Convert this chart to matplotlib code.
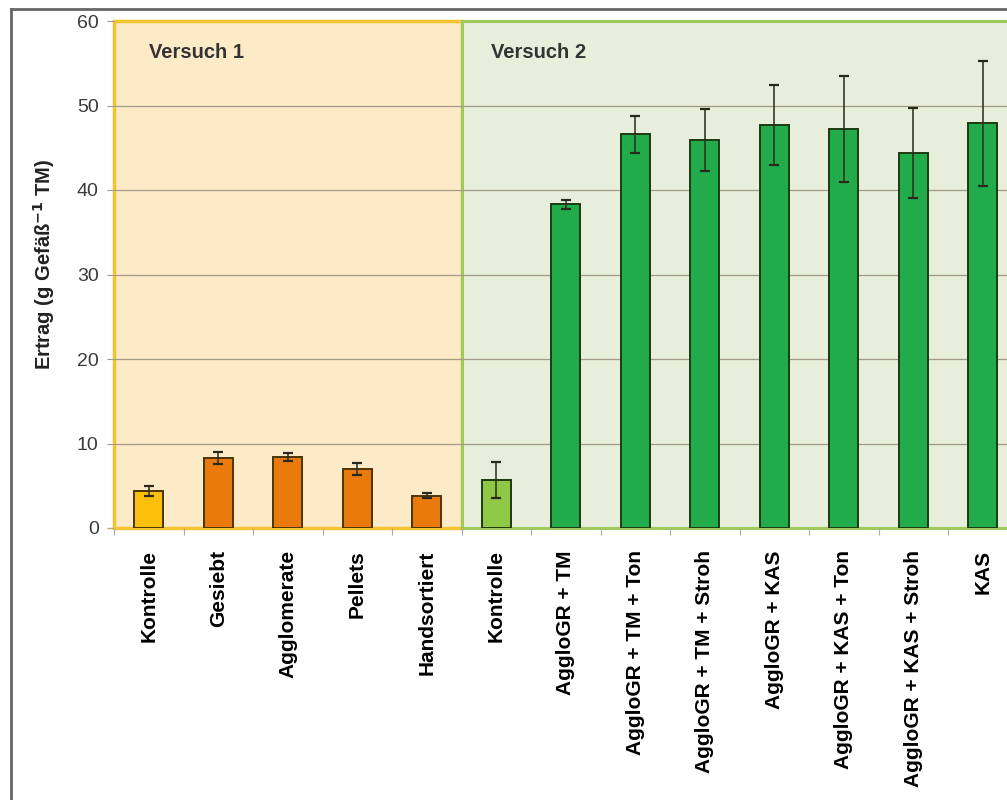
import numpy as np
import matplotlib
matplotlib.use('Agg')
import matplotlib.pyplot as plt
from matplotlib.patches import Rectangle

plt.rcParams['font.family'] = ['Liberation Sans', 'DejaVu Sans']

# Versuch 1 und Versuch 2: Ertrag je Gefäß (Mittelwert und Standardabweichung)
kategorien = ['Kontrolle', 'Gesiebt', 'Agglomerate', 'Pellets', 'Handsortiert',
              'Kontrolle', 'AggloGR + TM', 'AggloGR + TM + Ton', 'AggloGR + TM + Stroh',
              'AggloGR + KAS', 'AggloGR + KAS + Ton', 'AggloGR + KAS + Stroh', 'KAS']
ertrag = [4.4, 8.3, 8.4, 7.0, 3.8,
          5.7, 38.3, 46.6, 45.9, 47.7, 47.2, 44.4, 47.9]
fehler = [0.6, 0.7, 0.5, 0.7, 0.3,
          2.1, 0.5, 2.2, 3.7, 4.7, 6.3, 5.3, 7.4]
farben = ['#fbbf0c', '#e97a0b', '#e97a0b', '#e97a0b', '#e97a0b',
          '#8fc747', '#22ab4b', '#22ab4b', '#22ab4b', '#22ab4b', '#22ab4b', '#22ab4b', '#22ab4b']
kanten = ['#4a3505'] * 5 + ['#1d3a12'] * 8

fig = plt.figure(figsize=(10.07, 8), dpi=100)
ax = fig.add_axes([114 / 1007, 1 - 528 / 800, 903.5 / 1007, 507 / 800])

x = np.arange(len(kategorien))
ax.set_xlim(-0.5, 12.5)
ax.set_ylim(0, 60)

# Hintergrundflächen der beiden Versuche
ax.add_patch(Rectangle((-0.5, 0), 5, 60, facecolor='#fdebc8', edgecolor='#f4c430',
                       lw=2.5, zorder=0, clip_on=False))
ax.add_patch(Rectangle((4.5, 0), 8.6, 60, facecolor='#e7eedb', edgecolor='#9ccb5c',
                       lw=2.2, zorder=0, clip_on=False))

for yv in range(10, 60, 10):
    ax.axhline(yv, color='#a39b88', lw=0.9, zorder=1)

ax.bar(x, ertrag, width=0.42, color=farben, edgecolor=kanten, linewidth=1.4, zorder=3)
ax.errorbar(x, ertrag, yerr=fehler, fmt='none', ecolor='#2a2a1c', elinewidth=1.1,
            capsize=3.5, capthick=1.6, zorder=4)

ax.text(0.0, 56.3, 'Versuch 1', fontsize=14.5, fontweight='bold', color='#333333',
        va='center', ha='left', zorder=5)
ax.text(4.93, 56.3, 'Versuch 2', fontsize=14.5, fontweight='bold', color='#333333',
        va='center', ha='left', zorder=5)

for s in ax.spines.values():
    s.set_visible(False)

ax.set_yticks(range(0, 61, 10))
ax.tick_params(axis='y', length=5, width=0.8, color='#999999', pad=6,
               labelsize=14, labelcolor='#3a3a3a')
ax.set_xticks(x)
ax.set_xticklabels(kategorien, rotation=90, fontsize=15, fontweight='bold', va='top')
ax.set_xticks(np.arange(-0.5, 13, 1), minor=True)
ax.tick_params(axis='x', which='major', length=0, pad=16)
ax.tick_params(axis='x', which='minor', length=5, width=0.8, color='#aaaaaa')
ax.axhline(0, xmin=-0.006, xmax=0.0, color='#c9b060', lw=1, clip_on=False)

ax.set_ylabel('Ertrag (g Gefäß$^{\\mathbf{-1}}$ TM)', fontsize=14.5, fontweight='bold',
              color='#222222')
ax.yaxis.set_label_coords(-0.063, 0.52)

# Rahmen um die Abbildung
fig.add_artist(plt.Line2D([11 / 1007, 1.0], [1 - 9 / 800, 1 - 9 / 800],
                          color='#666666', lw=2))
fig.add_artist(plt.Line2D([11 / 1007, 11 / 1007], [0, 1 - 9 / 800],
                          color='#666666', lw=2))

fig.savefig('out.png', dpi=100)
